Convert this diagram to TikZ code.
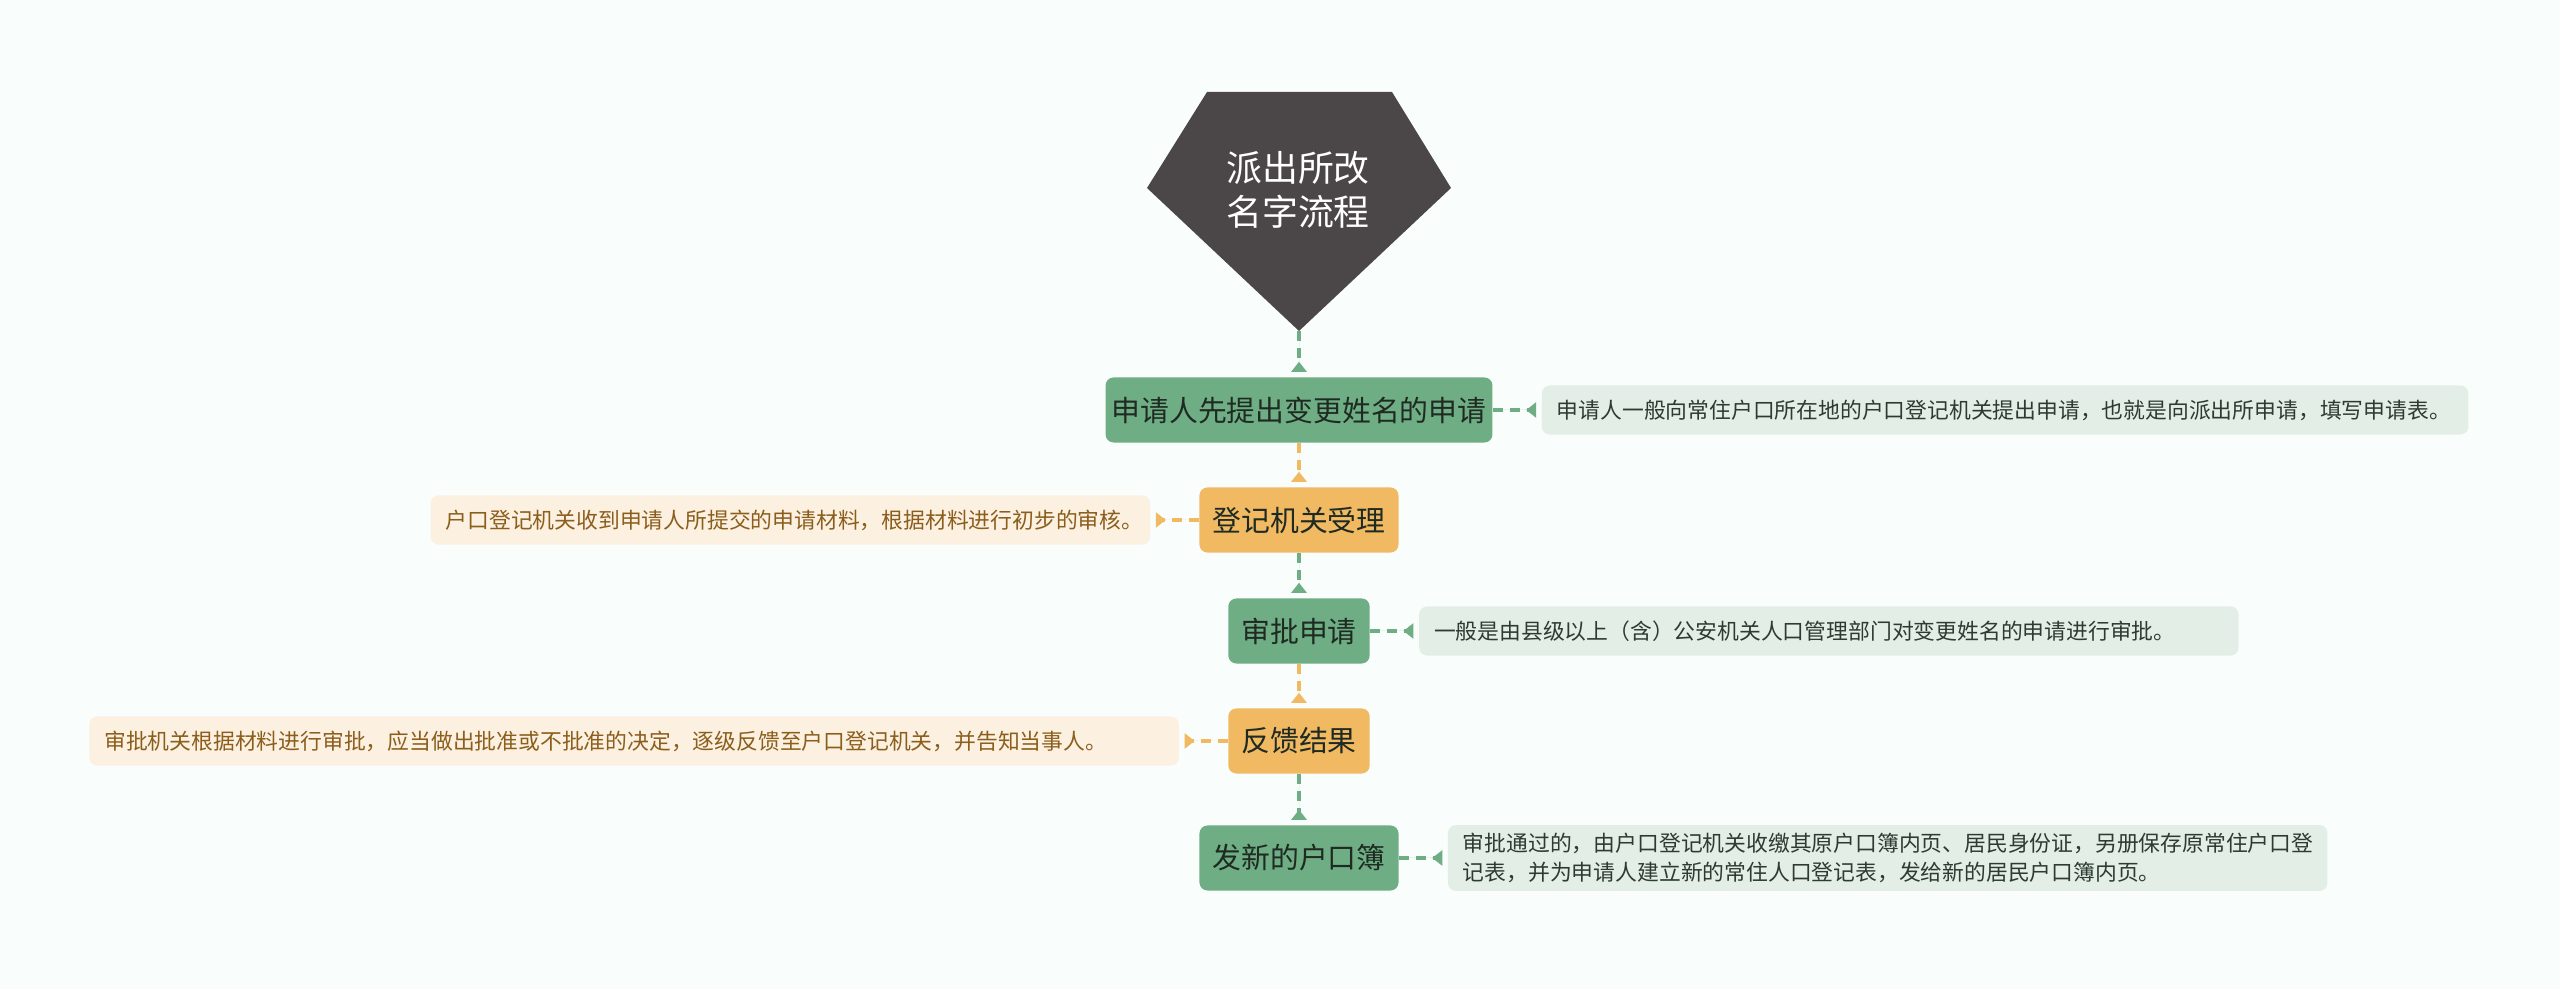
\documentclass[tikz,border=0pt]{standalone}
\usepackage{fontspec}
\setmainfont{Noto Sans CJK SC}
\usepackage{xcolor}
\usepackage{tikz}
\usetikzlibrary{arrows.meta,positioning}

\definecolor{bgcol}{HTML}{F9FDFC}
\definecolor{rootfill}{HTML}{4B4647}
\definecolor{gfill}{HTML}{6FAE84}
\definecolor{ofill}{HTML}{F0B962}
\definecolor{stagetext}{HTML}{1E2A22}
\definecolor{gmemofill}{HTML}{E3EEE6}
\definecolor{gmemotext}{HTML}{2D3B31}
\definecolor{omemofill}{HTML}{FCF0E1}
\definecolor{omemotext}{HTML}{8B5E1C}

\begin{document}
\begin{tikzpicture}[
  x=0.01cm, y=-0.01cm,
  node distance=0.48cm,
  stage/.style={rectangle, rounded corners=0.08cm, minimum height=0.65cm,
                inner xsep=0.13cm, text=stagetext,
                font=\fontsize{8.2pt}{10pt}\selectfont},
  gstage/.style={stage, fill=gfill},
  ostage/.style={stage, fill=ofill},
  memo/.style={rectangle, rounded corners=0.08cm, minimum height=0.49cm,
               inner xsep=0.15cm, inner ysep=0.08cm, align=left,
               font=\fontsize{6.2pt}{8.25pt}\selectfont},
  gmemo/.style={memo, fill=gmemofill, text=gmemotext},
  omemo/.style={memo, fill=omemofill, text=omemotext},
  link/.style={dash pattern=on 0.1cm off 0.07cm, line width=0.04cm,
               shorten >=0.05cm,
               -{Triangle[reversed, length=0.1cm, width=0.15cm]}},
  glink/.style={link, draw=gfill, fill=gfill},
  olink/.style={link, draw=ofill, fill=ofill}
]

% Canvas
\fill[bgcol] (0,0) rectangle (2560,989);
\useasboundingbox (0,0) rectangle (2560,989);

% Root
\fill[rootfill] (1207,92) -- (1392,92) -- (1451,188) -- (1299,331) -- (1147,188) -- cycle;
\node[text=white, align=center, font=\fontsize{10.2pt}{12.5pt}\selectfont]
  (root) at (1298,190) {派出所改\\名字流程};
\coordinate (roottip) at (1299,331);

% Steps
\node[gstage, inner xsep=0.06cm] (apply) at (1299,410) {申请人先提出变更姓名的申请};
\node[ostage] (accept) at (1299,520) {登记机关受理};
\node[gstage] (review) at (1299,631) {审批申请};
\node[ostage] (result) at (1299,741) {反馈结果};
\node[gstage] (issue)  at (1299,858) {发新的户口簿};

% Notes
\node[gmemo, right=of apply, text width=8.96cm] (applymemo)
  {申请人一般向常住户口所在地的户口登记机关提出申请，也就是向派出所申请，填写申请表。};
\node[omemo, left=of accept, text width=6.89cm] (acceptmemo)
  {户口登记机关收到申请人所提交的申请材料，根据材料进行初步的审核。};
\node[gmemo, right=of review, text width=7.89cm] (reviewmemo)
  {一般是由县级以上（含）公安机关人口管理部门对变更姓名的申请进行审批。};
\node[omemo, left=of result, text width=10.59cm] (resultmemo)
  {审批机关根据材料进行审批，应当做出批准或不批准的决定，逐级反馈至户口登记机关，并告知当事人。};
\node[gmemo, right=of issue, text width=8.49cm] (issuememo)
  {审批通过的，由户口登记机关收缴其原户口簿内页、居民身份证，另册保存原常住户口登\\记表，并为申请人建立新的常住人口登记表，发给新的居民户口簿内页。};

% Links
\draw[glink] (roottip) -- (apply);
\draw[olink] (apply)  -- (accept);
\draw[glink] (accept) -- (review);
\draw[olink] (review) -- (result);
\draw[glink] (result) -- (issue);

\draw[glink] (apply)  -- (applymemo);
\draw[olink] (accept) -- (acceptmemo);
\draw[glink] (review) -- (reviewmemo);
\draw[olink] (result) -- (resultmemo);
\draw[glink] (issue)  -- (issuememo);

\end{tikzpicture}
\end{document}
